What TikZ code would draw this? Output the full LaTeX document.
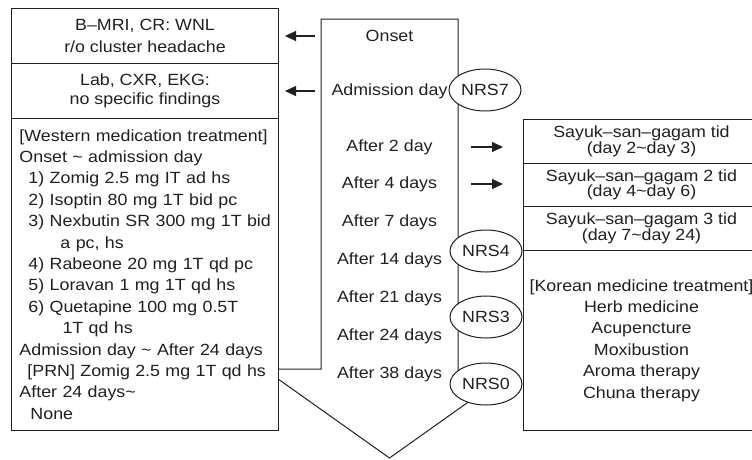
\documentclass[tikz,border=0pt]{standalone}
\usepackage{fontspec}
\setmainfont{Liberation Sans}[FakeStretch=1.1]
\usetikzlibrary{shapes.geometric,arrows.meta}
\definecolor{ink}{RGB}{35,31,32}
\tikzset{
  every node/.style={text=ink, font=\fontsize{16.2}{21.4}\selectfont},
  box/.style={draw=ink, fill=white, line width=1pt, inner sep=0pt, anchor=north west, align=center},
  tight/.style={font=\fontsize{16.2}{15.5}\selectfont},
  nrs/.style={ellipse, draw=ink, fill=white, line width=1pt, minimum width=72pt, minimum height=42pt, inner sep=0pt},
  arr/.style={-{Triangle[length=11pt,width=10pt]}, draw=ink, line width=1.1pt}
}

\begin{document}
\begin{tikzpicture}[x=1pt,y=-1pt]
\useasboundingbox (0,0) rectangle (752,459);

% big arrow of the time line
\coordinate (shaftL) at (321,19);
\coordinate (shaftR) at (458,19);
\draw[ink, line width=1pt] (458,372) -- (shaftR) -- (shaftL) -- (321,369) -- (264,369) -- (389.5,458) -- (500,379.5);

\node (onset) at (389.5,36) {Onset};
\node (adm) at (389.5,91) {Admission day};
\node (d2) at (389.5,147) {After 2 day};
\node (d4) at (389.5,184) {After 4 days};
\node (d7) at (389.5,222) {After 7 days};
\node (d14) at (389.5,260) {After 14 days};
\node (d21) at (389.5,298) {After 21 days};
\node (d24) at (389.5,336) {After 24 days};
\node (d38) at (389.5,374) {After 38 days};

% left column
\node[box, minimum width=267pt, minimum height=55pt] (mri) at (11,8) {B–MRI, CR: WNL\\r/o cluster headache};
\node[box, minimum width=267pt, minimum height=55pt, font=\fontsize{16.2}{18.5}\selectfont] (lab) at (11,63) {Lab, CXR, EKG:\\no specific findings};
\node[box, minimum width=267pt, minimum height=312pt, align=left, text width=251pt, inner xsep=8pt] (west) at (11,118) {%
  \mbox{[Western medication treatment]}\\
  Onset \textasciitilde\ admission day\\
  \hspace*{9pt}1) Zomig 2.5 mg IT ad hs\\
  \hspace*{9pt}2) Isoptin 80 mg 1T bid pc\\
  \hspace*{9pt}\mbox{3) Nexbutin SR 300 mg 1T bid}\\
  \hspace*{41pt}a pc, hs\\
  \hspace*{9pt}4) Rabeone 20 mg 1T qd pc\\
  \hspace*{9pt}5) Loravan 1 mg 1T qd hs\\
  \hspace*{9pt}6) Quetapine 100 mg 0.5T\\
  \hspace*{43pt}1T qd hs\\
  Admission day \textasciitilde\ After 24 days\\
  \hspace*{8pt}[PRN] Zomig 2.5 mg 1T qd hs\\
  After 24 days\textasciitilde\\
  \hspace*{11pt}None};

% right column
\node[box, tight, minimum width=236pt, minimum height=44pt] (sy1) at (523,119) {Sayuk–san–gagam tid\\(day 2\textasciitilde day 3)};
\node[box, tight, minimum width=236pt, minimum height=43pt] (sy2) at (523,163) {Sayuk–san–gagam 2 tid\\(day 4\textasciitilde day 6)};
\node[box, tight, minimum width=236pt, minimum height=44pt] (sy3) at (523,206) {Sayuk–san–gagam 3 tid\\(day 7\textasciitilde day 24)};
\node[box, minimum width=236pt, minimum height=180pt] (korean) at (523,250) {[Korean medicine treatment]\\Herb medicine\\Acupencture\\Moxibustion\\Aroma therapy\\Chuna therapy};

% pain scores
\node[nrs] (nrs7) at (485,90) {NRS7};
\node[nrs] (nrs4) at (486,251) {NRS4};
\node[nrs] (nrs3) at (486,317) {NRS3};
\node[nrs] (nrs0) at (486,384) {NRS0};

\draw[arr, shorten <=6pt, shorten >=6pt] (onset -| shaftL) -- (onset -| mri.east);
\draw[arr, shorten <=6pt, shorten >=6pt] (adm -| shaftL) -- (adm -| lab.east);
\draw[arr, shorten <=13pt, shorten >=20pt] (d2 -| shaftR) -- (d2 -| sy1.west);
\draw[arr, shorten <=13pt, shorten >=20pt] (d4 -| shaftR) -- (d4 -| sy2.west);
\end{tikzpicture}
\end{document}
